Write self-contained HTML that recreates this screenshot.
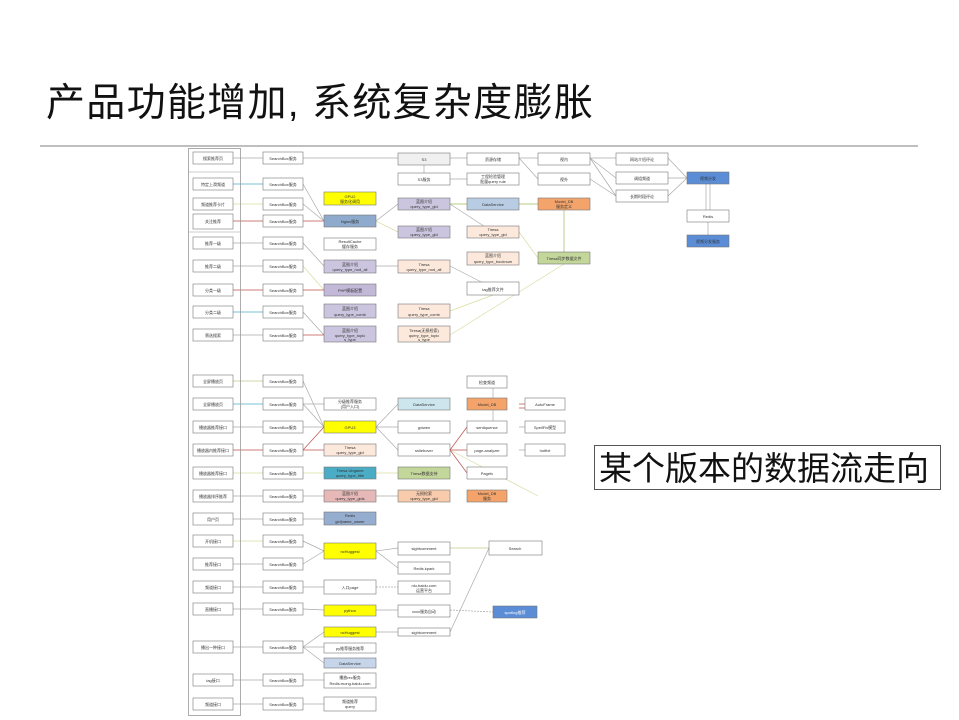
<!DOCTYPE html>
<html><head><meta charset="utf-8"><style>
html,body{margin:0;padding:0;background:#fff;width:959px;height:720px;overflow:hidden}
svg{position:absolute;left:0;top:0}
.t{font-family:"Liberation Sans","Noto Sans CJK SC",sans-serif;}
</style></head><body>
<svg width="959" height="720" viewBox="0 0 959 720" xmlns="http://www.w3.org/2000/svg">
<text x="46" y="116" class="t" font-size="39" letter-spacing="1.3" fill="#111">产品功能增加, 系统复杂度膨胀</text>
<line x1="40" y1="146" x2="918" y2="146" stroke="#999" stroke-width="1.2"/>
<rect x="594.5" y="445.5" width="346" height="44" fill="#fff" stroke="#555" stroke-width="1"/>
<text x="599" y="480" class="t" font-size="33" fill="#111">某个版本的数据流走向</text>

<g stroke-width="0.7" fill="none">
<g stroke="#aaa">
<line x1="233" y1="158" x2="263" y2="158"/><line x1="303" y1="158" x2="398" y2="158"/>
<line x1="450" y1="158" x2="467" y2="158"/><line x1="519" y1="158" x2="538" y2="158"/>
<line x1="450" y1="179" x2="467" y2="179"/><line x1="424" y1="165" x2="424" y2="173"/>
<line x1="519" y1="158" x2="538" y2="179"/><line x1="590" y1="158" x2="616" y2="158"/>
<line x1="590" y1="158" x2="616" y2="178"/><line x1="590" y1="158" x2="616" y2="196"/>
<line x1="590" y1="179" x2="616" y2="196"/><line x1="668" y1="158" x2="687" y2="178"/>
<line x1="668" y1="178" x2="687" y2="178"/><line x1="668" y1="196" x2="687" y2="178"/>
<line x1="706" y1="184" x2="706" y2="210"/><line x1="710" y1="184" x2="710" y2="210"/><line x1="708" y1="222" x2="708" y2="235"/>
<line x1="233" y1="243" x2="263" y2="243"/><line x1="303" y1="243" x2="324" y2="266"/>
<line x1="233" y1="266" x2="263" y2="266"/><line x1="376" y1="266" x2="398" y2="266"/>
<line x1="450" y1="266" x2="493" y2="288"/><line x1="303" y1="312" x2="324" y2="335"/>
<line x1="233" y1="335" x2="263" y2="335"/><line x1="303" y1="184" x2="324" y2="221"/>
<line x1="303" y1="204" x2="324" y2="221"/><line x1="450" y1="204" x2="493" y2="232"/>
<line x1="376" y1="221" x2="398" y2="204"/><line x1="233" y1="381" x2="263" y2="381"/>
<line x1="303" y1="381" x2="324" y2="427"/><line x1="303" y1="404" x2="324" y2="404"/>
<line x1="303" y1="404" x2="324" y2="427"/><line x1="233" y1="427" x2="263" y2="427"/>
<line x1="303" y1="427" x2="324" y2="427"/><line x1="376" y1="427" x2="398" y2="404"/>
<line x1="376" y1="427" x2="398" y2="427"/><line x1="376" y1="427" x2="398" y2="450"/>
<line x1="233" y1="496" x2="263" y2="496"/><line x1="303" y1="496" x2="324" y2="496"/>
<line x1="376" y1="496" x2="398" y2="496"/><line x1="233" y1="519" x2="263" y2="519"/>
<line x1="303" y1="519" x2="324" y2="519"/><line x1="303" y1="541" x2="324" y2="551"/>
<line x1="303" y1="564" x2="324" y2="551"/><line x1="233" y1="564" x2="263" y2="564"/>
<line x1="233" y1="587" x2="263" y2="587"/><line x1="303" y1="587" x2="324" y2="587"/>
<line x1="376" y1="587" x2="398" y2="587" stroke-dasharray="2,1"/>
<line x1="233" y1="609" x2="263" y2="609"/><line x1="303" y1="609" x2="324" y2="610"/>
<line x1="376" y1="610" x2="398" y2="610"/><line x1="450" y1="610" x2="493" y2="612" stroke-dasharray="2,1"/>
<line x1="376" y1="551" x2="398" y2="548"/><line x1="376" y1="551" x2="398" y2="568"/>
<line x1="450" y1="548" x2="489" y2="548"/><line x1="450" y1="632" x2="489" y2="548"/>
<line x1="376" y1="632" x2="398" y2="632"/><line x1="233" y1="647" x2="263" y2="647"/>
<line x1="303" y1="647" x2="324" y2="632"/><line x1="303" y1="647" x2="324" y2="647"/>
<line x1="303" y1="647" x2="324" y2="663"/><line x1="233" y1="680" x2="263" y2="680"/>
<line x1="303" y1="680" x2="324" y2="680"/><line x1="233" y1="704" x2="263" y2="704"/>
<line x1="303" y1="704" x2="324" y2="704"/><line x1="493" y1="388" x2="493" y2="398"/>
<line x1="493" y1="421" x2="493" y2="410"/><line x1="519" y1="427" x2="538" y2="427"/>
<line x1="519" y1="450" x2="538" y2="450"/>
</g>
<g stroke="#4bacc6"><line x1="233" y1="184" x2="263" y2="184"/><line x1="233" y1="312" x2="263" y2="312"/><line x1="233" y1="404" x2="263" y2="404"/></g>
<g stroke="#9bbb59"><line x1="450" y1="204" x2="467" y2="204"/><line x1="519" y1="204" x2="538" y2="204"/><line x1="564" y1="210" x2="564" y2="252"/></g>
<g stroke="#d8dca0"><line x1="233" y1="204" x2="263" y2="204"/><line x1="376" y1="221" x2="398" y2="232"/><line x1="519" y1="232" x2="538" y2="258"/><line x1="450" y1="335" x2="564" y2="264"/><line x1="450" y1="311" x2="493" y2="295"/><line x1="303" y1="266" x2="324" y2="290"/><line x1="233" y1="473" x2="263" y2="473"/><line x1="303" y1="473" x2="324" y2="473"/><line x1="376" y1="473" x2="398" y2="473"/><line x1="233" y1="381" x2="263" y2="381"/><line x1="233" y1="541" x2="263" y2="541"/><line x1="450" y1="450" x2="538" y2="496"/><line x1="450" y1="548" x2="489" y2="548"/></g>
<g stroke="#c0504d"><line x1="233" y1="221" x2="263" y2="221"/><line x1="303" y1="221" x2="324" y2="221"/><line x1="233" y1="290" x2="263" y2="290"/><line x1="303" y1="290" x2="324" y2="290"/><line x1="233" y1="450" x2="263" y2="450"/><line x1="303" y1="450" x2="324" y2="450"/><line x1="303" y1="450" x2="324" y2="427"/><line x1="450" y1="450" x2="467" y2="450"/><line x1="450" y1="450" x2="467" y2="427"/><line x1="450" y1="450" x2="467" y2="473"/><line x1="519" y1="404" x2="538" y2="404"/><line x1="519" y1="408" x2="538" y2="408"/><line x1="303" y1="335" x2="324" y2="335"/></g>
</g>

<rect x="188.5" y="148.5" width="52" height="567" fill="none" stroke="#999" stroke-width="0.8"/>
<line x1="188" y1="172" x2="240" y2="172" stroke="#999" stroke-width="0.6"/>
<line x1="188" y1="232" x2="240" y2="232" stroke="#999" stroke-width="0.6"/>

<g class="t" font-size="4" text-anchor="middle" fill="#444" stroke="#777" stroke-width="0.6">
<g fill="#fff">
<rect x="193" y="152" width="40" height="12"/><rect x="193" y="178" width="40" height="12"/><rect x="193" y="198" width="40" height="12"/><rect x="193" y="214" width="40" height="15"/><rect x="193" y="237" width="40" height="12"/><rect x="193" y="260" width="40" height="12"/><rect x="193" y="284" width="40" height="12"/><rect x="193" y="306" width="40" height="12"/><rect x="193" y="329" width="40" height="12"/>
<rect x="193" y="375" width="40" height="12"/><rect x="193" y="398" width="40" height="12"/><rect x="193" y="421" width="40" height="12"/><rect x="193" y="444" width="40" height="12"/><rect x="193" y="467" width="40" height="12"/><rect x="193" y="490" width="40" height="12"/><rect x="193" y="513" width="40" height="12"/><rect x="193" y="535" width="40" height="12"/><rect x="193" y="558" width="40" height="12"/><rect x="193" y="581" width="40" height="12"/><rect x="193" y="603" width="40" height="12"/><rect x="193" y="641" width="40" height="12"/><rect x="193" y="674" width="40" height="12"/><rect x="193" y="698" width="40" height="12"/>
<rect x="263" y="152" width="40" height="12"/><rect x="263" y="178" width="40" height="12"/><rect x="263" y="198" width="40" height="12"/><rect x="263" y="215" width="40" height="12"/><rect x="263" y="237" width="40" height="12"/><rect x="263" y="260" width="40" height="12"/><rect x="263" y="284" width="40" height="12"/><rect x="263" y="306" width="40" height="12"/><rect x="263" y="329" width="40" height="12"/>
<rect x="263" y="375" width="40" height="12"/><rect x="263" y="398" width="40" height="12"/><rect x="263" y="421" width="40" height="12"/><rect x="263" y="444" width="40" height="12"/><rect x="263" y="467" width="40" height="12"/><rect x="263" y="490" width="40" height="12"/><rect x="263" y="513" width="40" height="12"/><rect x="263" y="535" width="40" height="12"/><rect x="263" y="558" width="40" height="12"/><rect x="263" y="581" width="40" height="12"/><rect x="263" y="603" width="40" height="12"/><rect x="263" y="641" width="40" height="12"/><rect x="263" y="674" width="40" height="12"/><rect x="263" y="698" width="40" height="12"/>
</g>
<rect x="324" y="192" width="52" height="13" fill="#ffff00"/>
<rect x="324" y="215" width="52" height="12" fill="#8eaacc"/>
<rect x="324" y="238" width="52" height="12" fill="#fff"/>
<rect x="324" y="260" width="52" height="13" fill="#ccc5df"/>
<rect x="324" y="284" width="52" height="12" fill="#c2b8d8"/>
<rect x="324" y="304" width="52" height="14" fill="#ccc5df"/>
<rect x="324" y="326" width="52" height="16" fill="#ccc5df"/>
<rect x="324" y="398" width="52" height="12" fill="#fff"/>
<rect x="324" y="421" width="52" height="12" fill="#ffff00"/>
<rect x="324" y="444" width="52" height="12" fill="#fce9dc"/>
<rect x="324" y="467" width="52" height="12" fill="#4bacc6"/>
<rect x="324" y="490" width="52" height="12" fill="#e6b9b8"/>
<rect x="324" y="512" width="52" height="13" fill="#95adcf"/>
<rect x="324" y="543" width="52" height="16" fill="#ffff00"/>
<rect x="324" y="580" width="52" height="14" fill="#fff"/>
<rect x="324" y="605" width="52" height="11" fill="#ffff00"/>
<rect x="324" y="627" width="52" height="10" fill="#ffff00"/>
<rect x="324" y="643" width="52" height="10" fill="#fff"/>
<rect x="324" y="658" width="52" height="10" fill="#c6d5ea"/>
<rect x="324" y="673" width="52" height="15" fill="#fff"/>
<rect x="324" y="697" width="52" height="14" fill="#fff"/>
<rect x="398" y="153" width="52" height="12" fill="#f0f0f0"/>
<rect x="398" y="173" width="52" height="12" fill="#fff"/>
<rect x="398" y="198" width="52" height="12" fill="#ccc5df"/>
<rect x="398" y="226" width="52" height="12" fill="#ccc5df"/>
<rect x="398" y="260" width="52" height="13" fill="#fce9dc"/>
<rect x="398" y="304" width="52" height="14" fill="#fce9dc"/>
<rect x="398" y="326" width="52" height="16" fill="#fce9dc"/>
<rect x="398" y="398" width="52" height="12" fill="#cde6ee"/>
<rect x="398" y="421" width="52" height="12" fill="#fff"/>
<rect x="398" y="444" width="52" height="12" fill="#fff"/>
<rect x="398" y="467" width="52" height="12" fill="#c4d79b"/>
<rect x="398" y="490" width="52" height="12" fill="#f8cbad"/>
<rect x="398" y="542" width="52" height="13" fill="#fff"/>
<rect x="398" y="562" width="52" height="12" fill="#fff"/>
<rect x="398" y="581" width="52" height="13" fill="#fff"/>
<rect x="398" y="605" width="52" height="12" fill="#fff"/>
<rect x="398" y="628" width="52" height="8" fill="#fff"/>
<rect x="467" y="153" width="52" height="12" fill="#fff"/>
<rect x="467" y="173" width="52" height="12" fill="#fff"/>
<rect x="467" y="198" width="52" height="12" fill="#b8cce4"/>
<rect x="467" y="226" width="52" height="12" fill="#fce9dc"/>
<rect x="467" y="252" width="52" height="13" fill="#fce9dc"/>
<rect x="467" y="282" width="52" height="13" fill="#fff"/>
<rect x="467" y="376" width="40" height="12" fill="#fff"/>
<rect x="467" y="398" width="40" height="12" fill="#f4a46a"/>
<rect x="467" y="421" width="40" height="12" fill="#fff"/>
<rect x="467" y="444" width="40" height="12" fill="#fff"/>
<rect x="467" y="467" width="40" height="12" fill="#fff"/>
<rect x="467" y="490" width="40" height="12" fill="#f4a46a"/>
<rect x="489" y="541" width="53" height="14" fill="#fff"/>
<rect x="493" y="606" width="44" height="12" fill="#5b8dd6"/>
<rect x="538" y="153" width="52" height="12" fill="#fff"/>
<rect x="538" y="173" width="52" height="12" fill="#fff"/>
<rect x="538" y="198" width="52" height="12" fill="#f4a46a"/>
<rect x="538" y="252" width="52" height="12" fill="#c4d79b"/>
<rect x="525" y="398" width="40" height="12" fill="#fff"/>
<rect x="525" y="421" width="40" height="12" fill="#fff"/>
<rect x="525" y="444" width="40" height="12" fill="#fff"/>
<rect x="616" y="153" width="52" height="12" fill="#fff"/>
<rect x="616" y="172" width="52" height="12" fill="#fff"/>
<rect x="616" y="190" width="52" height="12" fill="#fff"/>
<rect x="687" y="172" width="42" height="12" fill="#5b8dd6"/>
<rect x="687" y="210" width="42" height="12" fill="#fff"/>
<rect x="687" y="235" width="42" height="12" fill="#5b8dd6"/>
</g>

<g class="t" font-size="4" text-anchor="middle" fill="#333">
<text x="213" y="160">搜索推荐页</text><text x="213" y="186">特定上滑频道</text><text x="213" y="206">频道推荐卡片</text><text x="213" y="223">关注推荐</text><text x="213" y="245">推荐一级</text><text x="213" y="268">推荐二级</text><text x="213" y="292">分类一级</text><text x="213" y="314">分类二级</text><text x="213" y="337">筛选搜索</text>
<text x="213" y="383">全屏播放页</text><text x="213" y="406">全屏播放页</text><text x="213" y="429">播放器推荐接口</text><text x="213" y="452">播放器内推荐接口</text><text x="213" y="475">播放器推荐接口</text><text x="213" y="498">播放器排序推荐</text><text x="213" y="521">用户页</text><text x="213" y="543">开机接口</text><text x="213" y="566">推荐接口</text><text x="213" y="589">频道接口</text><text x="213" y="611">直播接口</text><text x="213" y="649">播出一种接口</text><text x="213" y="682">tag接口</text><text x="213" y="706">频道接口</text>
<text x="283" y="160">SearchBox服务</text><text x="283" y="186">SearchBox服务</text><text x="283" y="206">SearchBox服务</text><text x="283" y="223">SearchBox服务</text><text x="283" y="245">SearchBox服务</text><text x="283" y="268">SearchBox服务</text><text x="283" y="292">SearchBox服务</text><text x="283" y="314">SearchBox服务</text><text x="283" y="337">SearchBox服务</text>
<text x="283" y="383">SearchBox服务</text><text x="283" y="406">SearchBox服务</text><text x="283" y="429">SearchBox服务</text><text x="283" y="452">SearchBox服务</text><text x="283" y="475">SearchBox服务</text><text x="283" y="498">SearchBox服务</text><text x="283" y="521">SearchBox服务</text><text x="283" y="543">SearchBox服务</text><text x="283" y="566">SearchBox服务</text><text x="283" y="589">SearchBox服务</text><text x="283" y="611">SearchBox服务</text><text x="283" y="649">SearchBox服务</text><text x="283" y="682">SearchBox服务</text><text x="283" y="706">SearchBox服务</text>
<text x="350" y="198">GPU2</text><text x="350" y="203">服务化调用</text><text x="350" y="223">Nginx服务</text><text x="350" y="243">ResultCache</text><text x="350" y="248">缓存服务</text>
<text x="350" y="266">蓝图介绍</text><text x="350" y="271">query_type_nod_all</text><text x="350" y="292">PHP模板配置</text><text x="350" y="310">蓝图介绍</text><text x="350" y="316">query_type_comb</text><text x="350" y="332">蓝图介绍</text><text x="350" y="337">query_type_topic</text><text x="350" y="341">s_type</text>
<text x="350" y="403">分级推荐服务</text><text x="350" y="408">(用户入口)</text><text x="350" y="429">GPU3</text><text x="350" y="449">Tiresa</text><text x="350" y="454">query_type_gid</text><text x="350" y="472">Tiresa Ubgame</text><text x="350" y="477">query_type_title</text><text x="350" y="495">蓝图介绍</text><text x="350" y="500">query_type_gids</text><text x="350" y="517">Redis</text><text x="350" y="523">gid|name_owner</text>
<text x="350" y="553">ncHuggest</text><text x="350" y="589">入口page</text><text x="350" y="612">python</text><text x="350" y="634">ncHuggest</text><text x="350" y="650">py推荐服务推荐</text><text x="350" y="665">DataService</text><text x="350" y="679">播放rec服务</text><text x="350" y="685">Redis:mong.baidu.com</text><text x="350" y="703">频道推荐</text><text x="350" y="708">query</text>
<text x="424" y="161">S3</text><text x="424" y="181">S3服务</text><text x="424" y="203">蓝图介绍</text><text x="424" y="208">query_type_gid</text><text x="424" y="231">蓝图介绍</text><text x="424" y="236">query_type_gid</text><text x="424" y="266">Tiresa</text><text x="424" y="271">query_type_nod_all</text><text x="424" y="310">Tiresa</text><text x="424" y="316">query_type_comb</text><text x="424" y="332">Tiresa(无损检索)</text><text x="424" y="337">query_type_topic</text><text x="424" y="341">s_type</text>
<text x="424" y="406">DataService</text><text x="424" y="429">gxiwen</text><text x="424" y="452">ssllebover</text><text x="424" y="475">Tiresa数据支持</text><text x="424" y="495">无损检索</text><text x="424" y="500">query_type_gid</text>
<text x="424" y="550">sightcomment</text><text x="424" y="570">Redis.kpark</text><text x="424" y="587">nlu.baidu.com</text><text x="424" y="592">运营平台</text><text x="424" y="613">xxxx服务自动</text><text x="424" y="634">sightcomment</text>
<text x="493" y="161">资源存储</text><text x="493" y="178">工程检验管理</text><text x="493" y="183">批量query rule</text><text x="493" y="206">DataService</text><text x="493" y="231">Tiresa</text><text x="493" y="236">query_type_gid</text><text x="493" y="257">蓝图介绍</text><text x="493" y="263">query_type_booknum</text><text x="493" y="291">tag推荐文件</text>
<text x="487" y="384">检查频道</text><text x="487" y="406">Model_DB</text><text x="487" y="429">sentiquence</text><text x="487" y="452">page-analyzer</text><text x="487" y="475">Pagefc</text><text x="487" y="495">Model_DB</text><text x="487" y="500">服务</text>
<text x="515" y="550">Search</text><text x="515" y="614" fill="#fff">spotlog推荐</text>
<text x="564" y="161">视内</text><text x="564" y="181">视外</text><text x="564" y="203">Model_DB</text><text x="564" y="208">服务定义</text><text x="564" y="260">Tiresa同步数据文件</text>
<text x="545" y="406">AutoFrame</text><text x="545" y="429">SpellFix模型</text><text x="545" y="452">hotfixt</text>
<text x="642" y="161">网站介绍评论</text><text x="642" y="180">调组频道</text><text x="642" y="198">长期时段评论</text><text x="708" y="180">视频分发</text><text x="708" y="218">Redis</text><text x="708" y="243">视频分发服务</text>
</g>
</svg>
</body></html>
